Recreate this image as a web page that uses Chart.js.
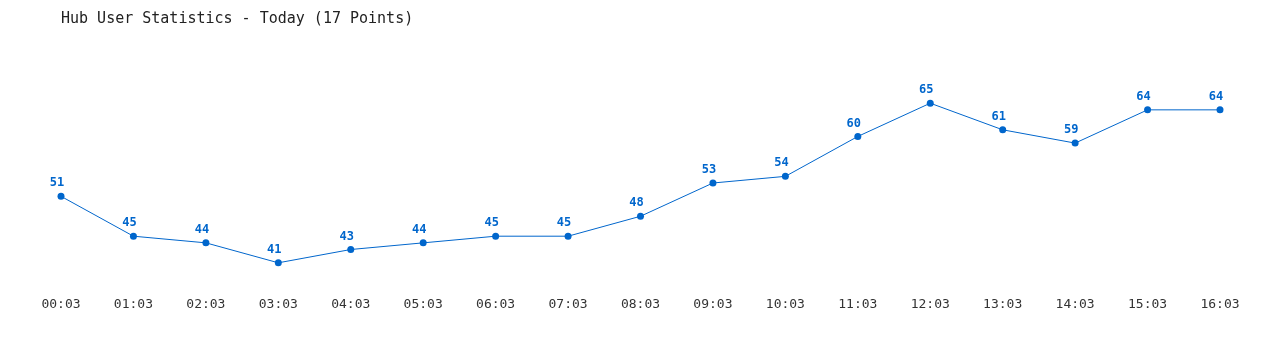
<!DOCTYPE html>
<html>
<head>
<meta charset="utf-8">
<script src="https://cdn.jsdelivr.net/npm/chart.js@4/dist/chart.umd.min.js"></script>
<style>
  html, body { margin: 0; padding: 0; background: #fff; }
  #wrap { width: 1280px; height: 350px; }
</style>
</head>
<body>
<div id="wrap"><canvas id="c"></canvas></div>
<script>
const titleText = 'Hub User Statistics - Today (17 Points)'
const hours = ['00:03', '01:03', '02:03', '03:03', '04:03', '05:03', '06:03', '07:03', '08:03',
    '09:03', '10:03', '11:03', '12:03', '13:03', '14:03', '15:03', '16:03']
const users = [51, 45, 44, 41, 43, 44, 45, 45, 48, 53, 54, 60, 65, 61, 59, 64, 64]

const blue = '#0066cc'
const mono = '"DejaVu Sans Mono", "Liberation Mono", monospace'

// draws the value above each point (sits a little left of the point, as in the original)
const valueLabels = {
    id: 'valueLabels',
    afterDatasetsDraw(chart) {
        const ctx = chart.ctx
        const meta = chart.getDatasetMeta(0)
        ctx.save()
        ctx.font = 'bold 12px ' + mono
        ctx.fillStyle = blue
        ctx.textAlign = 'center'
        ctx.textBaseline = 'middle'
        meta.data.forEach((pt, i) => {
            ctx.fillText(String(users[i]), pt.x - 4, pt.y - 13)
        })
        ctx.restore()
    },
}

new Chart(document.getElementById('c'), {
    type: 'line',
    data: {
        labels: hours,
        datasets: [{
            data: users,
            borderColor: blue,
            backgroundColor: blue,
            borderWidth: 1,
            pointRadius: 3.5,
            pointBorderWidth: 0,
            tension: 0,
            fill: false,
        }],
    },
    options: {
        responsive: true,
        maintainAspectRatio: false,
        animation: false,
        layout: { padding: { left: 61, right: 60, top: 0, bottom: 31 } },
        plugins: {
            legend: { display: false },
            tooltip: { enabled: false },
            title: {
                display: true,
                text: titleText,
                align: 'start',
                color: '#222',
                font: { family: mono, size: 15, weight: 'normal' },
                padding: { top: 10, bottom: 22 },
            },
        },
        scales: {
            x: {
                grid: { display: false, drawTicks: false },
                border: { display: false },
                ticks: {
                    color: '#333',
                    font: { family: mono, size: 13 },
                    padding: 7,
                    maxRotation: 0,
                    autoSkip: false,
                },
            },
            y: {
                display: false,
                min: 37,
                max: 73,
            },
        },
    },
    plugins: [valueLabels],
})
</script>
</body>
</html>
